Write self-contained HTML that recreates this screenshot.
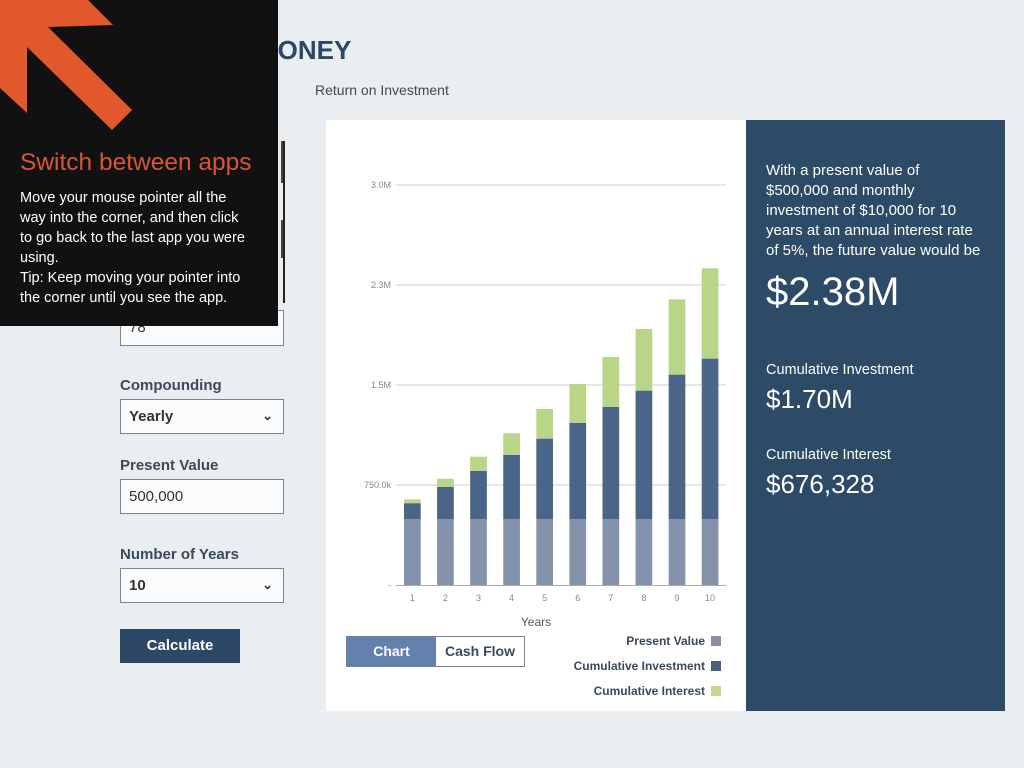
<!DOCTYPE html>
<html><head><meta charset="utf-8"><style>
body{margin:0;width:1024px;height:768px;background:#ebeef0;font-family:"Liberation Sans",sans-serif;position:relative;overflow:hidden;color:#2c3e50}
.a{position:absolute}
.lbl{font-size:15px;font-weight:bold;color:#3a4a5a}
.inp{position:absolute;left:120px;width:164px;height:34px;border:1px solid #7a8590;background:#fafbfc;box-sizing:border-box;font-size:15px;padding:8px 0 0 8px;color:#333}
.chev{position:absolute;right:10px;top:8px;font-size:13px;font-weight:bold}
.leg{position:absolute;right:0;font-size:12px;font-weight:bold;color:#3a4a5a;text-align:right;width:300px}
.sq{display:inline-block;width:10px;height:10px;margin-left:6px;vertical-align:-1px}
</style></head><body>
<div class="a" style="left:256px;top:35px;font-size:26px;font-weight:bold;color:#2c4866">MONEY</div>
<div class="a" style="left:315px;top:82px;font-size:14px;color:#3a4a5a">Return on Investment</div>
<div class="a" style="left:281px;top:141px;width:3px;height:42px;background:#444"></div>
<div class="a" style="left:281px;top:220px;width:3px;height:38px;background:#444"></div>
<div class="a" style="left:283px;top:141px;width:2px;height:162px;background:#222"></div>
<div class="inp" style="top:310px;height:36px">78</div>
<div class="a lbl" style="left:120px;top:377px">Compounding</div>
<div class="inp" style="top:399px;height:35px;font-weight:bold">Yearly<span class="chev">&#8964;</span></div>
<div class="a lbl" style="left:120px;top:457px">Present Value</div>
<div class="inp" style="top:479px;height:35px">500,000</div>
<div class="a lbl" style="left:120px;top:546px">Number of Years</div>
<div class="inp" style="top:568px;height:35px;font-weight:bold">10<span class="chev">&#8964;</span></div>
<div class="a" style="left:120px;top:629px;width:120px;height:34px;background:#2c4866;color:#fff;font-size:15px;font-weight:bold;text-align:center;line-height:34px">Calculate</div>

<div class="a" style="left:326px;top:120px;width:420px;height:591px;background:#fff"></div>
<svg class="a" style="left:0;top:0" width="1024" height="768">
<g stroke="#ccc" stroke-width="1">
<line x1="396" y1="185" x2="726" y2="185"/><line x1="396" y1="285" x2="726" y2="285"/>
<line x1="396" y1="385" x2="726" y2="385"/><line x1="396" y1="485" x2="726" y2="485"/>
<line x1="396" y1="585.5" x2="726" y2="585.5" stroke="#aaa"/></g>
<g font-size="9" fill="#888" text-anchor="end" font-family="Liberation Sans">
<text x="391" y="188">3.0M</text><text x="391" y="288">2.3M</text><text x="391" y="388">1.5M</text><text x="391" y="488">750.0k</text><text x="391" y="588">-</text></g>
<g id="bars"></g>
<g font-size="9" fill="#888" text-anchor="middle" font-family="Liberation Sans" id="xl"></g>
<text x="536" y="626" font-size="12" fill="#555" text-anchor="middle" font-family="Liberation Sans">Years</text>
</svg>
<script>
var b=[[503.3,499.3],[487,478.7],[471,456.7],[455,433.3],[438.7,409],[423,384],[407,357],[390.7,329],[374.7,299.3],[358.7,268.3]];
var s='',t='';
for(var i=0;i<10;i++){var x=404+i*33.08;
s+='<rect x="'+x+'" y="'+b[i][1]+'" width="16.7" height="'+(b[i][0]-b[i][1])+'" fill="#b9d587"/>';
s+='<rect x="'+x+'" y="'+b[i][0]+'" width="16.7" height="'+(519-b[i][0])+'" fill="#4b6589"/>';
s+='<rect x="'+x+'" y="519" width="16.7" height="66" fill="#8592ab"/>';
t+='<text x="'+(x+8.3)+'" y="601">'+(i+1)+'</text>';}
document.getElementById('bars').innerHTML=s;document.getElementById('xl').innerHTML=t;
</script>
<div class="a" style="left:346px;top:636px;width:179px;height:31px;border:1px solid #7a8590;box-sizing:border-box;background:#fff">
<div class="a" style="left:0;top:0;width:89px;height:29px;background:#6480ad;color:#fff;font-weight:bold;font-size:14px;text-align:center;line-height:29px">Chart</div>
<div class="a" style="left:89px;top:0;width:88px;height:29px;color:#3a4a5a;font-weight:bold;font-size:14px;text-align:center;line-height:29px">Cash Flow</div></div>
<div class="leg" style="left:421px;top:634px">Present Value<span class="sq" style="background:#8a90a0"></span></div>
<div class="leg" style="left:421px;top:659px">Cumulative Investment<span class="sq" style="background:#4e6078"></span></div>
<div class="leg" style="left:421px;top:684px">Cumulative Interest<span class="sq" style="background:#c3d88e"></span></div>

<div class="a" style="left:746px;top:120px;width:259px;height:591px;background:#2d4a66;color:#fff">
<div class="a" style="left:20px;top:41px;font-size:15px;line-height:20px;white-space:nowrap">With a present value of<br>$500,000 and monthly<br>investment of $10,000 for 10<br>years at an annual interest rate<br>of 5%, the future value would be</div>
<div class="a" style="left:20px;top:150px;font-size:40px">$2.38M</div>
<div class="a" style="left:20px;top:242px;font-size:14.5px">Cumulative Investment</div>
<div class="a" style="left:20px;top:264px;font-size:26px">$1.70M</div>
<div class="a" style="left:20px;top:327px;font-size:14.5px">Cumulative Interest</div>
<div class="a" style="left:20px;top:349px;font-size:26px">$676,328</div>
</div>

<div class="a" style="left:0;top:0;width:278px;height:326px;background:#111">
<svg class="a" style="left:0;top:0" width="140" height="140"><polygon points="0,0 88,0 113,25 48,27 132,110 112,130 27,47 27,113 0,88" fill="#e0582c"/></svg>
<div class="a" style="left:20px;top:149px;font-size:24.5px;color:#d9553a">Switch between apps</div>
<div class="a" style="left:20px;top:188px;font-size:14.5px;line-height:20px;color:#fff;white-space:nowrap">Move your mouse pointer all the<br>way into the corner, and then click<br>to go back to the last app you were<br>using.<br>Tip: Keep moving your pointer into<br>the corner until you see the app.</div>
</div>
</body></html>
